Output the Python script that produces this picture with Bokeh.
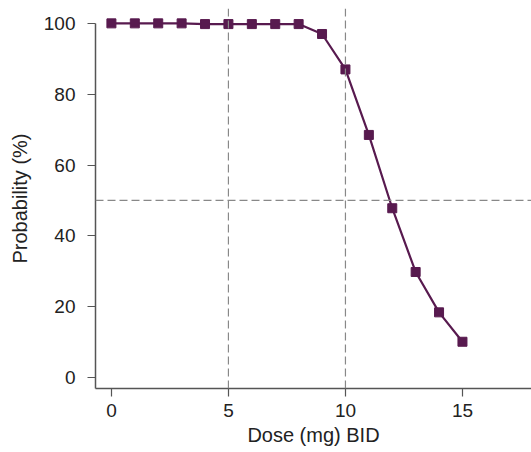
from bokeh.plotting import figure
from bokeh.models import Span, Range1d, LinearAxis, FixedTicker
from bokeh.embed import file_html
from bokeh.resources import INLINE

dose = [0, 1, 2, 3, 4, 5, 6, 7, 8, 9, 10, 11, 12, 13, 14, 15]
prob = [100, 100, 100, 100, 99.8, 99.8, 99.8, 99.8, 99.8, 97, 87, 68.5, 47.8, 29.8, 18.4, 10.1]
x_ticks = [0, 5, 10, 15]
y_ticks = [0, 20, 40, 60, 80, 100]
vlines = [5, 10]
hline = 50

FONT = "Liberation Sans"
AX = "#555555"
PURPLE = "#581a4f"

p = figure(width=531, height=452, output_backend="svg", toolbar_location=None,
           x_range=Range1d(-0.68, 17.95), y_range=Range1d(-3.1, 104.2),
           x_axis_location=None, y_axis_location=None,
           min_border_left=95, min_border_right=0, min_border_top=8, min_border_bottom=64)
p.outline_line_color = None
p.grid.visible = False
p.background_fill_color = "white"
p.border_fill_color = "white"

xa = LinearAxis(axis_label="Dose (mg) BID", ticker=FixedTicker(ticks=x_ticks))
ya = LinearAxis(axis_label="Probability (%)", ticker=FixedTicker(ticks=y_ticks), bounds=(-3.1, 100))
for a in (xa, ya):
    a.axis_line_color = AX
    a.axis_line_width = 1.5
    a.major_tick_line_color = AX
    a.major_tick_line_width = 1.2
    a.major_tick_out = 8
    a.major_tick_in = 0
    a.minor_tick_line_color = None
    a.major_label_text_font = FONT
    a.major_label_text_font_size = "19px"
    a.major_label_text_color = "#222222"
    a.axis_label_text_font = FONT
    a.axis_label_text_font_size = "20px"
    a.axis_label_text_font_style = "normal"
    a.axis_label_text_color = "#222222"
xa.major_label_standoff = 7
xa.axis_label_standoff = 4
ya.major_label_standoff = 12
ya.axis_label_standoff = 10
p.add_layout(xa, "below")
p.add_layout(ya, "left")

for v in vlines:
    p.add_layout(Span(location=v, dimension="height", line_color="#888888",
                      line_width=1.2, line_dash="8 4"))
p.add_layout(Span(location=hline, dimension="width", line_color="#888888",
                  line_width=1.2, line_dash="8 4"))

p.line(dose, prob, line_color=PURPLE, line_width=2.2)
p.scatter(dose, prob, marker="square", size=9, fill_color=PURPLE, line_color=PURPLE)

open("out.html", "w").write(file_html(p, INLINE))
